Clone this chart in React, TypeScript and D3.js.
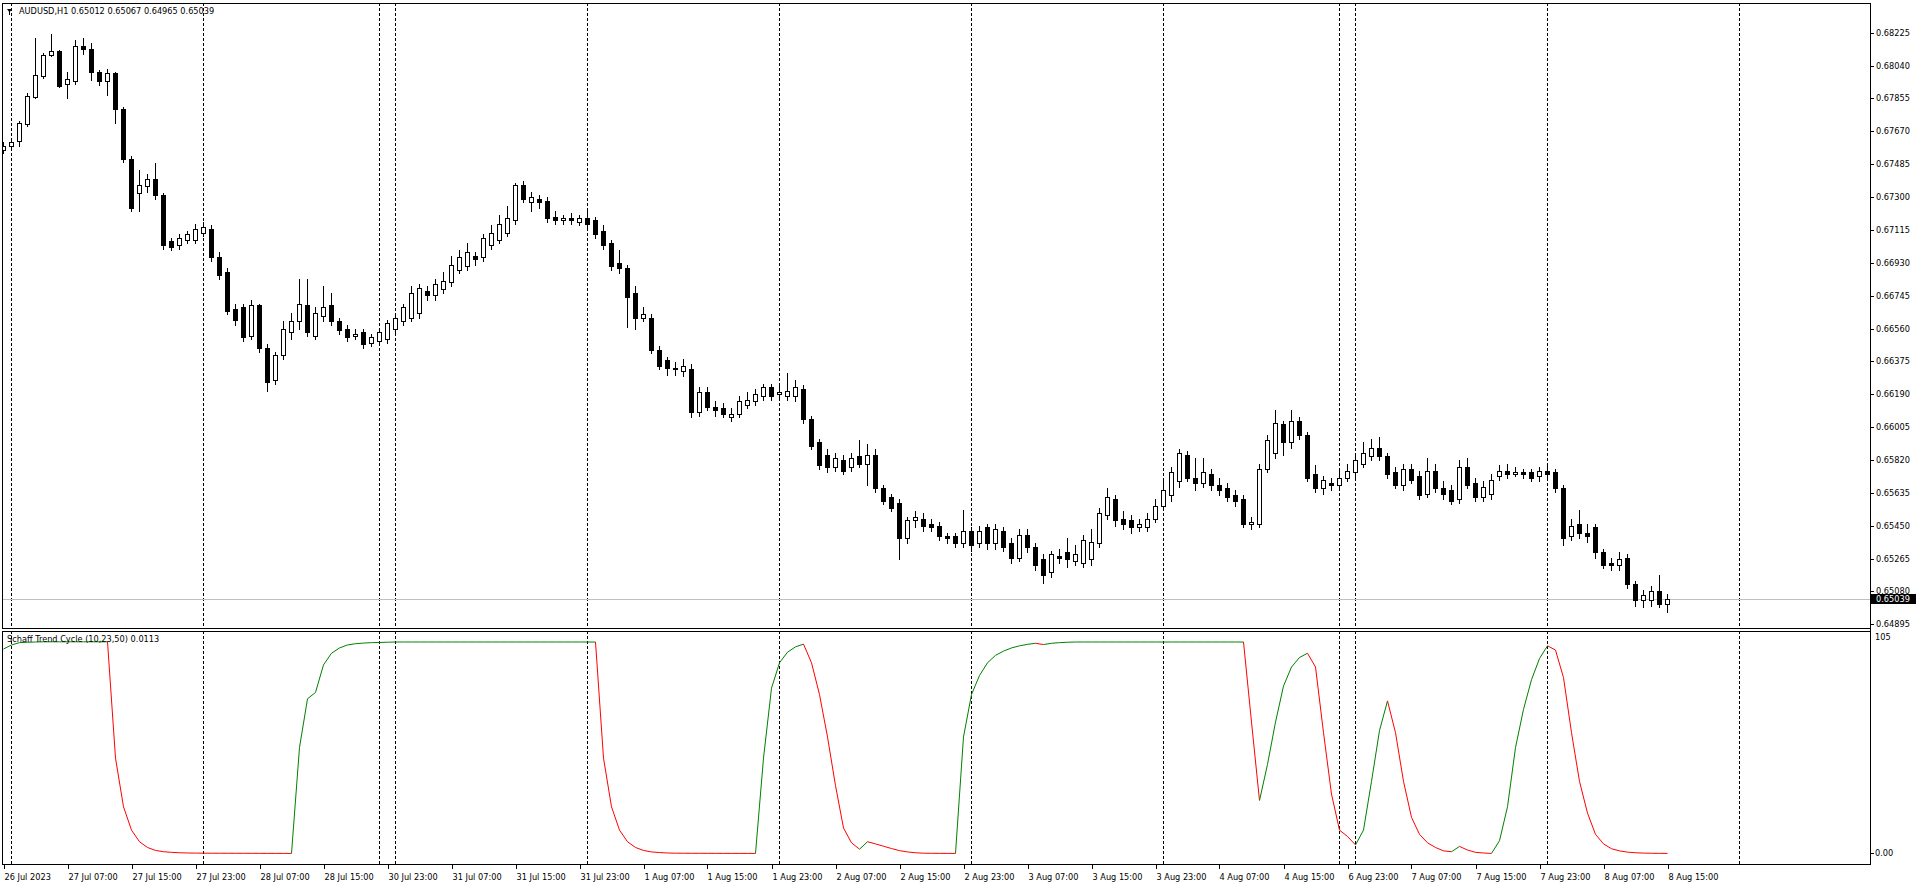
import React from "react";
import * as d3 from "d3";

// ---------- DATA ----------
const symbolTitle = "AUDUSD,H1  0.65012 0.65067 0.64965 0.65039";
const indicatorTitle = "Schaff Trend Cycle (10,23,50) 0.0113";

const opens = [
0.67565,0.67587,0.67616,0.67711,0.67863,0.67981,0.68100,0.68122,0.67936,0.67953,
0.68150,0.68133,0.68004,0.67953,0.67998,0.67795,0.67515,0.67320,0.67360,0.67400,
0.67310,0.67050,0.67030,0.67060,0.67060,0.67100,0.67120,0.66960,0.66880,0.66670,
0.66680,0.66520,0.66690,0.66450,0.66270,0.66410,0.66540,0.66600,0.66690,0.66520,
0.66630,0.66690,0.66600,0.66560,0.66520,0.66540,0.66480,0.66490,0.66500,0.66560,
0.66600,0.66620,0.66650,0.66770,0.66750,0.66780,0.66820,0.66890,0.66910,0.66970,
0.66960,0.67030,0.67060,0.67100,0.67170,0.67370,0.67270,0.67290,0.67280,0.67190,
0.67170,0.67180,0.67160,0.67180,0.67170,0.67110,0.67040,0.66930,0.66900,0.66760,
0.66620,0.66620,0.66440,0.66380,0.66340,0.66320,0.66330,0.66090,0.66200,0.66120,
0.66110,0.66060,0.66080,0.66130,0.66150,0.66180,0.66230,0.66190,0.66180,0.66180,
0.66220,0.66050,0.65920,0.65850,0.65780,0.65820,0.65780,0.65840,0.65800,0.65850,
0.65660,0.65610,0.65580,0.65380,0.65480,0.65490,0.65460,0.65450,0.65390,0.65390,
0.65350,0.65420,0.65350,0.65440,0.65350,0.65420,0.65350,0.65270,0.65400,0.65330,
0.65260,0.65190,0.65280,0.65300,0.65250,0.65240,0.65260,0.65350,0.65510,0.65600,
0.65490,0.65480,0.65440,0.65440,0.65490,0.65560,0.65620,0.65700,0.65850,0.65720,
0.65690,0.65740,0.65680,0.65660,0.65620,0.65600,0.65460,0.65460,0.65770,0.65860,
0.66020,0.65920,0.66040,0.65960,0.65740,0.65660,0.65690,0.65680,0.65720,0.65750,
0.65800,0.65840,0.65890,0.65840,0.65750,0.65680,0.65770,0.65730,0.65630,0.65760,
0.65660,0.65650,0.65600,0.65780,0.65690,0.65610,0.65630,0.65730,0.65760,0.65740,
0.65750,0.65750,0.65730,0.65760,0.65750,0.65660,0.65390,0.65460,0.65410,0.65440,
0.65300,0.65240,0.65230,0.65270,0.65120,0.65030,0.65030,0.65080,0.65012];

const highs = [
0.67610,0.67616,0.67730,0.67886,0.68195,0.68111,0.68218,0.68128,0.68004,0.68184,
0.68195,0.68167,0.68015,0.68021,0.68004,0.67806,0.67530,0.67450,0.67430,0.67490,
0.67320,0.67070,0.67090,0.67110,0.67150,0.67160,0.67140,0.66990,0.66900,0.66700,
0.66700,0.66720,0.66700,0.66470,0.66430,0.66600,0.66650,0.66840,0.66840,0.66680,
0.66800,0.66760,0.66620,0.66580,0.66560,0.66560,0.66530,0.66560,0.66610,0.66650,
0.66700,0.66800,0.66810,0.66800,0.66840,0.66880,0.66970,0.67000,0.67040,0.66990,
0.67090,0.67140,0.67200,0.67250,0.67380,0.67390,0.67330,0.67310,0.67300,0.67220,
0.67200,0.67210,0.67200,0.67230,0.67190,0.67140,0.67060,0.67000,0.66920,0.66800,
0.66680,0.66640,0.66460,0.66400,0.66370,0.66390,0.66360,0.66230,0.66230,0.66150,
0.66140,0.66110,0.66180,0.66200,0.66220,0.66250,0.66250,0.66240,0.66310,0.66270,
0.66240,0.66070,0.65940,0.65880,0.65860,0.65850,0.65860,0.65930,0.65910,0.65880,
0.65680,0.65630,0.65600,0.65500,0.65530,0.65520,0.65490,0.65470,0.65410,0.65410,
0.65540,0.65440,0.65450,0.65460,0.65460,0.65440,0.65380,0.65430,0.65430,0.65350,
0.65290,0.65310,0.65320,0.65380,0.65340,0.65400,0.65430,0.65550,0.65660,0.65620,
0.65530,0.65510,0.65490,0.65520,0.65600,0.65700,0.65780,0.65880,0.65870,0.65830,
0.65830,0.65770,0.65720,0.65690,0.65650,0.65620,0.65500,0.65800,0.65960,0.66100,
0.66040,0.66100,0.66060,0.65980,0.65790,0.65730,0.65720,0.65760,0.65800,0.65850,
0.65920,0.65940,0.65950,0.65860,0.65780,0.65800,0.65800,0.65760,0.65830,0.65800,
0.65700,0.65680,0.65820,0.65830,0.65720,0.65700,0.65740,0.65790,0.65800,0.65780,
0.65770,0.65770,0.65780,0.65790,0.65770,0.65680,0.65490,0.65540,0.65460,0.65460,
0.65320,0.65270,0.65300,0.65290,0.65140,0.65090,0.65110,0.65170,0.65067];

const lows = [
0.67548,0.67576,0.67589,0.67700,0.67858,0.67970,0.68095,0.67919,0.67858,0.67936,
0.68105,0.67959,0.67931,0.67875,0.67717,0.67500,0.67220,0.67220,0.67330,0.67290,
0.67010,0.67000,0.67010,0.67040,0.67040,0.67080,0.66940,0.66840,0.66640,0.66580,
0.66490,0.66500,0.66430,0.66210,0.66250,0.66390,0.66500,0.66560,0.66520,0.66500,
0.66600,0.66580,0.66530,0.66490,0.66500,0.66450,0.66460,0.66470,0.66480,0.66540,
0.66580,0.66600,0.66620,0.66720,0.66720,0.66760,0.66800,0.66870,0.66890,0.66920,
0.66940,0.67010,0.67040,0.67080,0.67150,0.67270,0.67220,0.67240,0.67160,0.67150,
0.67150,0.67150,0.67140,0.67130,0.67070,0.67010,0.66890,0.66870,0.66570,0.66560,
0.66600,0.66420,0.66330,0.66300,0.66300,0.66290,0.66060,0.66070,0.66100,0.66070,
0.66060,0.66040,0.66060,0.66110,0.66130,0.66160,0.66160,0.66170,0.66160,0.66150,
0.66030,0.65880,0.65770,0.65750,0.65760,0.65740,0.65760,0.65780,0.65680,0.65640,
0.65570,0.65530,0.65260,0.65350,0.65440,0.65420,0.65420,0.65370,0.65350,0.65330,
0.65330,0.65310,0.65330,0.65320,0.65320,0.65310,0.65240,0.65250,0.65300,0.65200,
0.65130,0.65160,0.65240,0.65220,0.65230,0.65220,0.65230,0.65330,0.65490,0.65450,
0.65430,0.65410,0.65420,0.65420,0.65470,0.65540,0.65590,0.65670,0.65700,0.65650,
0.65670,0.65650,0.65620,0.65590,0.65560,0.65440,0.65430,0.65440,0.65750,0.65830,
0.65850,0.65890,0.65940,0.65700,0.65640,0.65630,0.65650,0.65660,0.65700,0.65720,
0.65780,0.65820,0.65820,0.65720,0.65660,0.65650,0.65690,0.65600,0.65610,0.65640,
0.65600,0.65570,0.65580,0.65660,0.65590,0.65590,0.65600,0.65710,0.65720,0.65730,
0.65720,0.65700,0.65700,0.65720,0.65640,0.65340,0.65370,0.65380,0.65360,0.65270,
0.65210,0.65200,0.65200,0.65100,0.65000,0.64990,0.65000,0.64990,0.64965];

const closes = [
0.67587,0.67610,0.67717,0.67869,0.67987,0.68100,0.68122,0.67925,0.67964,0.68150,
0.68133,0.68004,0.67953,0.67998,0.67795,0.67515,0.67240,0.67370,0.67400,0.67310,
0.67030,0.67020,0.67070,0.67090,0.67120,0.67130,0.66960,0.66860,0.66660,0.66610,
0.66510,0.66690,0.66450,0.66260,0.66410,0.66560,0.66600,0.66700,0.66540,0.66650,
0.66680,0.66600,0.66550,0.66510,0.66530,0.66470,0.66510,0.66540,0.66590,0.66620,
0.66680,0.66760,0.66790,0.66750,0.66810,0.66830,0.66920,0.66960,0.66990,0.66950,
0.67070,0.67100,0.67150,0.67180,0.67370,0.67290,0.67300,0.67270,0.67180,0.67170,
0.67180,0.67170,0.67180,0.67150,0.67090,0.67030,0.66910,0.66900,0.66740,0.66620,
0.66640,0.66440,0.66350,0.66340,0.66330,0.66350,0.66090,0.66200,0.66120,0.66100,
0.66080,0.66080,0.66150,0.66160,0.66190,0.66230,0.66180,0.66200,0.66210,0.66230,
0.66050,0.65900,0.65790,0.65780,0.65830,0.65760,0.65830,0.65800,0.65850,0.65660,
0.65590,0.65550,0.65380,0.65480,0.65500,0.65450,0.65440,0.65390,0.65380,0.65350,
0.65420,0.65340,0.65420,0.65350,0.65430,0.65330,0.65270,0.65400,0.65330,0.65230,
0.65170,0.65290,0.65270,0.65260,0.65290,0.65370,0.65360,0.65520,0.65610,0.65480,
0.65460,0.65440,0.65460,0.65490,0.65560,0.65650,0.65750,0.65860,0.65720,0.65690,
0.65750,0.65680,0.65650,0.65610,0.65590,0.65460,0.65470,0.65770,0.65930,0.66030,
0.65920,0.66040,0.65960,0.65720,0.65660,0.65710,0.65680,0.65720,0.65760,0.65820,
0.65860,0.65890,0.65840,0.65740,0.65680,0.65770,0.65710,0.65620,0.65760,0.65660,
0.65630,0.65590,0.65780,0.65680,0.65610,0.65670,0.65710,0.65760,0.65740,0.65750,
0.65740,0.65720,0.65760,0.65740,0.65660,0.65380,0.65450,0.65410,0.65390,0.65300,
0.65230,0.65230,0.65260,0.65120,0.65030,0.65060,0.65080,0.65010,0.65039];

const stcValues = [
96.5,98.4,99.5,99.7,99.8,99.9,99.9,99.9,99.9,99.9,
99.9,99.9,99.9,99.9,45,22,11,5.5,2.8,1.4,
0.8,0.5,0.3,0.2,0.15,0.1,0.09,0.08,0.07,0.06,
0.05,0.04,0.03,0.02,0.015,0.01,0,50,73,76,
89,94.5,97,98.4,99,99.3,99.5,99.6,99.7,99.8,
99.8,99.8,99.8,99.8,99.8,99.8,99.8,99.8,99.8,99.8,
99.8,99.8,99.8,99.8,99.8,99.8,99.8,99.8,99.8,99.8,
99.8,99.8,99.8,99.8,99.8,45,22,11,5.5,2.8,
1.4,0.7,0.4,0.2,0.1,0.08,0.06,0.05,0.04,0.03,
0.02,0.015,0.01,0.005,0,45,78,90,95,97.5,
98.8,90,75,55,32,12,5,2,5.5,4.5,
3.4,2.3,1.3,0.7,0.3,0.1,0.05,0.02,0.01,0,
55,75,84,90,93.5,95.5,97,98,98.7,99.2,
98.6,99.2,99.5,99.7,99.8,99.8,99.8,99.8,99.8,99.8,
99.8,99.8,99.8,99.8,99.8,99.8,99.8,99.8,99.8,99.8,
99.8,99.8,99.8,99.8,99.8,99.8,62,25,42,62,
79,88,92.5,94.5,88,57,28,11,8,4,
11,34,58,72,57,34,17,9,5,2.8,
1.2,0.8,3.3,1.6,0.5,0.2,0,6,22,50,
68,82,92,98,96,83,57,34,19,9,
4.5,2.2,1.2,0.6,0.3,0.15,0.07,0.03,0.0113];

const timeLabels = [
"26 Jul 2023","27 Jul 07:00","27 Jul 15:00","27 Jul 23:00","28 Jul 07:00","28 Jul 15:00",
"30 Jul 23:00","31 Jul 07:00","31 Jul 15:00","31 Jul 23:00","1 Aug 07:00","1 Aug 15:00",
"1 Aug 23:00","2 Aug 07:00","2 Aug 15:00","2 Aug 23:00","3 Aug 07:00","3 Aug 15:00",
"3 Aug 23:00","4 Aug 07:00","4 Aug 15:00","6 Aug 23:00","7 Aug 07:00","7 Aug 15:00",
"7 Aug 23:00","8 Aug 07:00","8 Aug 15:00"];
const timeLabelStep = 8;

const daySeparatorBars = [1, 25, 47, 49, 73, 97, 121, 145, 167, 169, 193, 217];

const priceTicks = ["0.68225","0.68040","0.67855","0.67670","0.67485","0.67300","0.67115",
"0.66930","0.66745","0.66560","0.66375","0.66190","0.66005","0.65820","0.65635","0.65450",
"0.65265","0.65080","0.64895"];
const currentPrice = 0.65039;
const indicatorMax = 105;
const indicatorMin = -5;

// ---------- LAYOUT ----------
const W = 1916, H = 885;
const L = 2, R = 1870;
const mainTop = 3, mainBottom = 628;
const indTop = 631, indBottom = 864;
const FONT = "'DejaVu Sans', Tahoma, sans-serif";
const FS = 8.2;

export default function App() {
  const n = closes.length;
  const x = d3.scaleLinear().domain([0, n - 1]).range([3.5, 3.5 + 8 * (n - 1)]);
  const y = d3.scaleLinear().domain([0.64895, 0.68225]).range([624.3, 32.7]);
  const yi = d3.scaleLinear().domain([indicatorMin, indicatorMax]).range([indBottom, indTop]);
  const px = (v: number) => Math.round(v) + 0.5;

  const candles = closes.map((c, i) => {
    const o = opens[i], h = highs[i], l = lows[i];
    const cx = x(i);
    const yH = Math.round(y(h)), yL = Math.round(y(l));
    const yO = Math.round(y(o)), yC = Math.round(y(c));
    const els: any[] = [];
    els.push(<line key="w" x1={cx} x2={cx} y1={yH} y2={yL + 1} stroke="#000" strokeWidth={1} />);
    if (yC < yO) {
      els.push(<rect key="b" x={cx - 2} y={yC + 0.5} width={4} height={yO - yC} fill="#fff" stroke="#000" strokeWidth={1} />);
    } else if (yC > yO) {
      els.push(<rect key="b" x={cx - 2.5} y={yO} width={5} height={yC - yO + 1} fill="#000" />);
    } else {
      els.push(<line key="b" x1={cx - 2.5} x2={cx + 2.5} y1={yO + 0.5} y2={yO + 0.5} stroke="#000" strokeWidth={1} />);
    }
    return <g key={i}>{els}</g>;
  });

  const segs: { color: string; pts: [number, number][] }[] = [];
  let dir = "up";
  for (let i = 1; i < n; i++) {
    if (stcValues[i] > stcValues[i - 1]) dir = "up";
    else if (stcValues[i] < stcValues[i - 1]) dir = "down";
    const color = dir === "up" ? "#008000" : "#ff0000";
    const p0: [number, number] = [x(i - 1), yi(stcValues[i - 1])];
    const p1: [number, number] = [x(i), yi(stcValues[i])];
    const last = segs[segs.length - 1];
    if (last && last.color === color) last.pts.push(p1);
    else segs.push({ color, pts: [p0, p1] });
  }
  const lineGen = d3.line<[number, number]>().x((d) => d[0]).y((d) => d[1]);

  const cpY = px(y(currentPrice));

  return (
    <svg width={W} height={H} style={{ position: "absolute", left: 0, top: 0, display: "block", background: "#fff" }}
      fontFamily={FONT} fontSize={FS}>
      <defs>
        <clipPath id="mainClip"><rect x={L} y={mainTop} width={R - L} height={mainBottom - mainTop} /></clipPath>
        <clipPath id="indClip"><rect x={L} y={indTop} width={R - L} height={indBottom - indTop} /></clipPath>
      </defs>
      <rect x={0} y={0} width={W} height={H} fill="#fff" />

      {daySeparatorBars.map((b) => (
        <g key={"sep" + b}>
          <line x1={x(b)} x2={x(b)} y1={mainTop} y2={mainBottom} stroke="#000" strokeDasharray="3,2" strokeWidth={1} />
          <line x1={x(b)} x2={x(b)} y1={indTop} y2={indBottom} stroke="#000" strokeDasharray="3,2" strokeWidth={1} />
        </g>
      ))}

      <line x1={L} x2={R} y1={cpY} y2={cpY} stroke="#c0c0c0" strokeWidth={1} />

      <g clipPath="url(#mainClip)">{candles}</g>

      <g clipPath="url(#indClip)">
        {segs.map((s, k) => (
          <path key={k} d={lineGen(s.pts) || ""} fill="none" stroke={s.color} strokeWidth={1} />
        ))}
      </g>

      <rect x={L + 0.5} y={mainTop + 0.5} width={R - L} height={mainBottom - mainTop} fill="none" stroke="#000" />
      <rect x={L + 0.5} y={indTop + 0.5} width={R - L} height={indBottom - indTop} fill="none" stroke="#000" />
      <line x1={R + 0.5} x2={R + 0.5} y1={mainTop} y2={indBottom + 1} stroke="#000" />

      {priceTicks.map((t) => {
        const yy = px(y(+t));
        return (
          <g key={t}>
            <line x1={R + 1} x2={R + 4} y1={yy} y2={yy} stroke="#000" />
            <text x={R + 6} y={yy} dy="0.35em" fill="#000">{t}</text>
          </g>
        );
      })}
      <rect x={R + 1} y={cpY - 5.5} width={W - R - 1} height={10} fill="#000" />
      <text x={R + 6} y={cpY} dy="0.35em" fill="#fff">{currentPrice.toFixed(5)}</text>

      <text x={R + 5} y={637} dy="0.35em" fill="#000">{String(indicatorMax)}</text>
      <line x1={R + 1} x2={R + 4} y1={px(yi(0))} y2={px(yi(0))} stroke="#000" />
      <text x={R + 5} y={px(yi(0))} dy="0.35em" fill="#000">0.00</text>

      {timeLabels.map((t, k) => {
        const xx = px(x(k * timeLabelStep));
        return (
          <g key={t}>
            <line x1={xx} x2={xx} y1={indBottom + 1} y2={indBottom + 5} stroke="#000" />
            <text x={xx} y={880} fill="#000">{t}</text>
          </g>
        );
      })}

      <polygon points="7,9 12,9 9.5,12.5" fill="#000" />
      <line x1={9.5} x2={9.5} y1={12} y2={15} stroke="#000" />
      <text x={19} y={13.8} fill="#000">{symbolTitle}</text>
      <text x={7} y={642} fill="#000">{indicatorTitle}</text>
    </svg>
  );
}
